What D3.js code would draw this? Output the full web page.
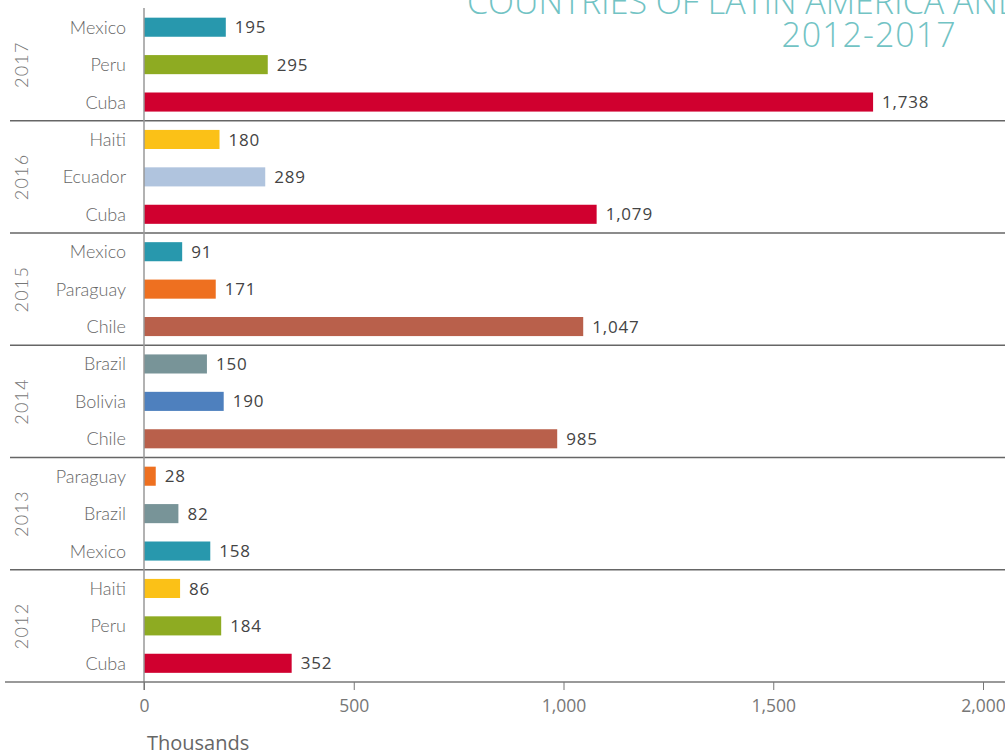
<!DOCTYPE html>
<html>
<head>
<meta charset="utf-8">
<script src="https://cdn.jsdelivr.net/npm/d3@7"></script>
<style>
  html, body { margin: 0; padding: 0; background: #fff; }
  svg { display: block; }
</style>
</head>
<body>
<svg id="chart" width="1005" height="756"></svg>
<script>
// Top three countries per year, thousands of people
const years = ["2017", "2016", "2015", "2014", "2013", "2012"];
const countries = [
  ["Mexico", "Peru", "Cuba"],
  ["Haiti", "Ecuador", "Cuba"],
  ["Mexico", "Paraguay", "Chile"],
  ["Brazil", "Bolivia", "Chile"],
  ["Paraguay", "Brazil", "Mexico"],
  ["Haiti", "Peru", "Cuba"]
];
const values = [
  [195, 295, 1738],
  [180, 289, 1079],
  [91, 171, 1047],
  [150, 190, 985],
  [28, 82, 158],
  [86, 184, 352]
];
const xTicks = [0, 500, 1000, 1500, 2000];
const countryColors = {
  Cuba: "#d0002f",
  Peru: "#8eab22",
  Mexico: "#2898ad",
  Haiti: "#fbc117",
  Ecuador: "#b0c4de",
  Paraguay: "#ee7020",
  Chile: "#b9604b",
  Brazil: "#789498",
  Bolivia: "#4e80be"
};
const titleLines = ["COUNTRIES OF LATIN AMERICA AND", "2012-2017"];

const svg = d3.select("#chart");
const W = 1005;
const axisY = 682;

const x = d3.scaleLinear().domain([0, 2000]).range([144, 983]);
const yYear = d3.scaleBand().domain(years).range([8.5, axisY]).padding(0);
const yRow = d3.scaleBand().domain([0, 1, 2]).range([0, yYear.bandwidth()])
  .paddingInner(0.49).paddingOuter(0.245);

// Flatten into one record per bar
const rows = [];
years.forEach((yr, i) => {
  countries[i].forEach((c, j) => rows.push({ year: yr, idx: j, country: c, value: values[i][j] }));
});

// Title
const title = svg.append("g").attr("fill", "#72c3c4")
  .style("font-family", "'Open Sans', Lato, sans-serif").style("font-weight", 300);
title.append("text").attr("x", 467).attr("y", 14).attr("font-size", 34).text(titleLines[0]);
title.append("text").attr("x", 869).attr("y", 47).attr("text-anchor", "middle")
  .attr("font-size", 34).attr("letter-spacing", 1).text(titleLines[1]);

// Group separators
svg.append("g").selectAll("line").data(years.slice(0, -1)).join("line")
  .attr("x1", 10).attr("x2", W)
  .attr("y1", d => yYear(d) + yYear.bandwidth())
  .attr("y2", d => yYear(d) + yYear.bandwidth())
  .attr("stroke", "#666").attr("stroke-width", 1.3);

// Bars
const barY = d => yYear(d.year) + yRow(d.idx);
svg.append("g").selectAll("rect").data(rows).join("rect")
  .attr("x", x(0)).attr("y", barY)
  .attr("width", d => x(d.value) - x(0))
  .attr("height", yRow.bandwidth())
  .attr("fill", d => countryColors[d.country]);

// Category labels
svg.append("g").selectAll("text").data(rows).join("text")
  .attr("x", 126).attr("y", d => barY(d) + yRow.bandwidth() / 2)
  .attr("dy", "0.36em").attr("text-anchor", "end")
  .attr("fill", "#666").attr("font-size", 18)
  .style("font-family", "Lato, 'Open Sans', sans-serif").style("font-weight", 300)
  .text(d => d.country);

// Value labels
const fmt = d3.format(",");
svg.append("g").selectAll("text").data(rows).join("text")
  .attr("x", d => x(d.value) + 9).attr("y", d => barY(d) + yRow.bandwidth() / 2)
  .attr("dy", "0.36em").attr("fill", "#444").attr("font-size", 17)
  .attr("letter-spacing", 0.8)
  .style("font-family", "'Open Sans', sans-serif")
  .text(d => fmt(d.value));

// Year labels
svg.append("g").selectAll("text").data(years).join("text")
  .attr("transform", d => `translate(22,${yYear(d) + yYear.bandwidth() / 2}) rotate(-90)`)
  .attr("dy", "0.35em").attr("text-anchor", "middle")
  .attr("fill", "#777").attr("font-size", 18).attr("letter-spacing", 1.2)
  .style("font-family", "Lato, 'Open Sans', sans-serif").style("font-weight", 300)
  .text(d => d);

// Vertical zero line
svg.append("line").attr("x1", x(0)).attr("x2", x(0)).attr("y1", 8).attr("y2", axisY + 8)
  .attr("stroke", "#999").attr("stroke-width", 1.5);

// Bottom axis
const xAxis = d3.axisBottom(x).tickValues(xTicks).tickFormat(fmt).tickSize(8).tickPadding(10);
const ax = svg.append("g").attr("transform", `translate(0,${axisY})`).call(xAxis);
ax.select(".domain").remove();
ax.selectAll(".tick line").attr("stroke", "#777");
ax.selectAll(".tick text").attr("fill", "#777").attr("font-size", 17.5)
  .style("font-family", "'Open Sans', sans-serif");
svg.append("line").attr("x1", 5).attr("x2", W).attr("y1", axisY).attr("y2", axisY)
  .attr("stroke", "#777").attr("stroke-width", 1.5);

// Unit caption
svg.append("text").attr("x", 147).attr("y", 750).attr("fill", "#666").attr("font-size", 20)
  .style("font-family", "'Open Sans', sans-serif").text("Thousands");
</script>
</body>
</html>
